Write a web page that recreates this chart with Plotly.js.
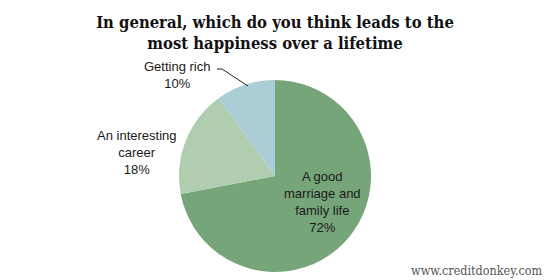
<!DOCTYPE html>
<html><head><meta charset="utf-8">
<script src="https://cdn.plot.ly/plotly-3.0.1.min.js"></script>
<style>html,body{margin:0;padding:0;background:#fff}#c{width:550px;height:280px}</style>
</head><body><div id="c"></div>
<script>
const categories = ["A good marriage and family life", "An interesting career", "Getting rich"];
const labelLines = ["A good<br>marriage and<br>family life", "An interesting<br>career", "Getting rich"];
const percents = [72, 18, 10];
const colors = ["#77A57A", "#B1CDB0", "#AACDD6"];

const W = 550, H = 280;
const px = (x) => x / W, py = (y) => 1 - y / H;
const cx = 275, cy = 176, r = 96;

const labelPos = [[322, 202], [137, 152], [177, 75]];
const annotations = categories.map((c, i) => ({
  text: labelLines[i] + "<br>" + percents[i] + "%",
  x: px(labelPos[i][0]), y: py(labelPos[i][1]), xref: "paper", yref: "paper",
  showarrow: false, xanchor: "center", yanchor: "middle", align: "center",
  font: {family: "Liberation Sans, Arial, sans-serif", size: 13, color: "#1a1a1a"}
}));
annotations.push({
  text: "www.creditdonkey.com", x: px(545), y: py(270), xref: "paper", yref: "paper",
  showarrow: false, xanchor: "right", yanchor: "middle",
  font: {family: "DejaVu Serif Condensed, serif", size: 12.5, color: "#555"}
});

Plotly.newPlot("c", [{
  type: "pie", labels: categories, values: percents, sort: false, direction: "clockwise",
  rotation: 0, marker: {colors: colors, line: {width: 0}}, textinfo: "none", hoverinfo: "none",
  domain: {x: [px(cx - r), px(cx + r)], y: [py(cy + r), py(cy - r)]}, showlegend: false
}], {
  width: W, height: H, margin: {l: 0, r: 0, t: 0, b: 0}, paper_bgcolor: "#fff",
  title: {text: "In general, which do you think leads to the<br>most happiness over a lifetime",
    x: 0.5, xanchor: "center", y: py(28), yanchor: "middle",
    font: {family: "DejaVu Serif Condensed, serif", size: 16.5, color: "#111", weight: "bold"}},
  annotations: annotations,
  shapes: [{type: "path", xref: "paper", yref: "paper",
    path: `M ${px(217)} ${py(69)} L ${px(222)} ${py(69)} L ${px(248)} ${py(86)}`,
    line: {color: "#222", width: 1}}]
}, {staticPlot: true});
</script></body></html>
